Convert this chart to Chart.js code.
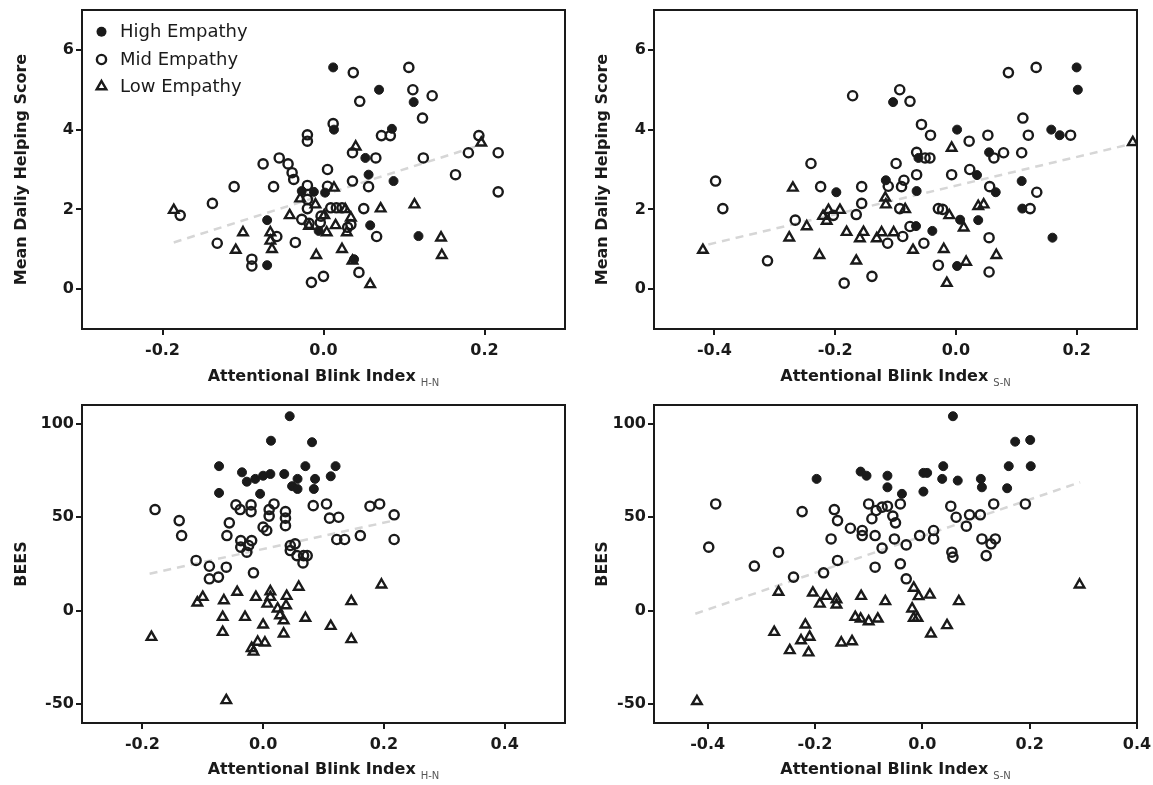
<!DOCTYPE html>
<html>
<head>
<meta charset="utf-8">
<title>Attentional Blink Index vs Helping / BEES</title>
<script src="https://cdn.jsdelivr.net/npm/chart.js@4.4.1/dist/chart.umd.min.js"></script>
<style>
  body { margin: 0; background: #fff; width: 1153px; height: 785px; overflow: hidden; position: relative; }
  canvas { position: absolute; }
</style>
</head>
<body>
<canvas id="c1" width="576" height="392" style="left:0;top:0"></canvas>
<canvas id="c2" width="577" height="392" style="left:576px;top:0"></canvas>
<canvas id="c3" width="576" height="393" style="left:0;top:392px"></canvas>
<canvas id="c4" width="577" height="393" style="left:576px;top:392px"></canvas>
<script>
/* global Chart */

// ---- data: [attentional blink index, score] ----

// Mean daily helping score vs AB index H-N
const helpHN_high = [[0.012,5.56],[0.069,5.0],[0.112,4.69],[0.013,4.0],[0.085,4.02],[0.052,3.29],[0.056,2.87],[0.087,2.71],[-0.027,2.46],[-0.012,2.44],[0.002,2.42],[-0.07,1.73],[-0.07,0.6],[-0.006,1.46],[0.058,1.6],[0.118,1.33],[0.038,0.75]];
const helpHN_mid = [[0.037,5.43],[0.106,5.56],[0.111,5.0],[0.135,4.85],[0.045,4.71],[0.123,4.29],[0.012,4.15],[0.072,3.85],[0.083,3.85],[-0.02,3.87],[-0.02,3.71],[0.193,3.85],[0.036,3.42],[0.065,3.29],[0.124,3.29],[0.18,3.42],[0.217,3.42],[0.005,3.0],[0.164,2.87],[0.036,2.71],[0.056,2.57],[0.217,2.44],[-0.075,3.14],[-0.055,3.29],[-0.044,3.14],[-0.039,2.92],[-0.037,2.75],[-0.111,2.57],[-0.062,2.57],[-0.02,2.6],[0.005,2.58],[-0.02,2.25],[-0.02,2.02],[-0.027,1.75],[-0.018,1.65],[0.009,2.04],[0.016,2.04],[0.023,2.04],[0.034,1.62],[-0.003,1.83],[-0.004,1.67],[0.03,1.55],[0.05,2.02],[0.066,1.32],[-0.178,1.85],[-0.138,2.15],[-0.132,1.15],[-0.058,1.32],[-0.035,1.17],[-0.089,0.75],[-0.089,0.58],[0.044,0.42],[-0.015,0.17],[0.0,0.32]];
const helpHN_low = [[-0.186,1.98],[-0.1,1.42],[-0.109,0.98],[-0.066,1.42],[-0.066,1.21],[-0.064,1.0],[-0.042,1.85],[0.04,3.57],[0.196,3.67],[0.013,2.54],[-0.029,2.27],[-0.01,2.12],[-0.018,1.58],[0.001,1.85],[0.027,2.0],[0.034,1.79],[0.004,1.42],[0.015,1.6],[0.029,1.42],[0.071,2.02],[0.113,2.12],[0.146,1.29],[0.147,0.85],[-0.009,0.85],[0.023,1.0],[0.036,0.71],[0.058,0.12]];
const helpHN_fit = [[-0.186,1.17],[0.196,3.62]];

// Mean daily helping score vs AB index S-N
const helpSN_high = [[-0.198,2.43],[-0.116,2.73],[-0.104,4.69],[-0.066,1.58],[-0.065,2.46],[-0.062,3.29],[-0.039,1.46],[0.002,0.58],[0.002,4.0],[0.007,1.74],[0.035,2.86],[0.037,1.73],[0.055,3.43],[0.066,2.43],[0.109,2.71],[0.11,2.02],[0.158,4.0],[0.16,1.29],[0.172,3.86],[0.2,5.56],[0.202,5.0]];
const helpSN_mid = [[-0.398,2.71],[-0.386,2.02],[-0.312,0.71],[-0.266,1.73],[-0.24,3.15],[-0.224,2.57],[-0.203,1.85],[-0.171,4.85],[-0.156,2.57],[-0.156,2.15],[-0.165,1.87],[-0.185,0.15],[-0.139,0.32],[-0.113,1.15],[-0.088,1.32],[-0.112,2.58],[-0.099,3.15],[-0.086,2.73],[-0.09,2.57],[-0.065,2.87],[-0.093,2.02],[-0.076,1.57],[-0.053,1.15],[-0.029,0.6],[-0.065,3.43],[-0.051,3.29],[-0.043,3.29],[-0.042,3.86],[0.022,3.71],[-0.007,2.87],[0.023,3.0],[-0.029,2.02],[-0.022,2.0],[0.087,5.43],[0.133,5.56],[-0.093,5.0],[-0.076,4.71],[0.111,4.29],[-0.057,4.13],[0.053,3.86],[0.12,3.86],[0.19,3.86],[0.063,3.29],[0.079,3.42],[0.109,3.42],[0.056,2.57],[0.134,2.43],[0.123,2.02],[0.055,1.29],[0.055,0.43]];
const helpSN_low = [[-0.419,0.98],[-0.27,2.54],[-0.276,1.29],[-0.247,1.57],[-0.226,0.85],[-0.211,1.98],[-0.22,1.83],[-0.214,1.71],[-0.192,1.98],[-0.181,1.43],[-0.153,1.43],[-0.159,1.27],[-0.165,0.71],[-0.123,1.42],[-0.131,1.27],[-0.103,1.42],[-0.117,2.29],[-0.116,2.12],[-0.084,2.0],[-0.071,0.98],[-0.015,0.15],[-0.02,1.0],[0.017,0.68],[-0.007,3.54],[-0.011,1.85],[0.013,1.54],[0.037,2.08],[0.293,3.68],[0.046,2.12],[0.067,0.85]];
const helpSN_fit = [[-0.41,1.12],[0.299,3.67]];

// BEES vs AB index H-N
const beesHN_high = [[-0.073,77.3],[-0.073,63],[-0.035,74],[-0.027,69],[-0.013,70.5],[0.0,72.2],[0.012,73.1],[-0.005,62.5],[0.013,90.9],[0.044,104],[0.035,73.1],[0.057,70.5],[0.048,66.6],[0.057,65.1],[0.07,77.3],[0.081,90.1],[0.086,70.5],[0.084,65.1],[0.12,77.3],[0.112,71.9]];
const beesHN_mid = [[-0.179,54.1],[-0.139,48.2],[-0.135,40.2],[-0.111,26.9],[-0.089,23.8],[-0.089,17.1],[-0.074,18],[-0.061,23.3],[-0.045,56.6],[-0.038,54.1],[-0.02,56.6],[-0.02,53],[-0.056,47],[-0.06,40.2],[-0.037,37.5],[-0.037,34],[-0.024,34.9],[-0.019,37.5],[-0.027,31.3],[-0.016,20.3],[0,44.7],[0.006,42.9],[0.01,54.1],[0.01,50.6],[0.018,57.1],[0.037,53],[0.037,49.5],[0.037,45.5],[0.045,34.9],[0.045,32.2],[0.053,35.8],[0.056,29.5],[0.067,29.5],[0.066,25.6],[0.073,29.5],[0.083,56.2],[0.105,57.1],[0.11,49.5],[0.125,50],[0.122,38.1],[0.135,38.1],[0.161,40.2],[0.177,55.9],[0.193,57.1],[0.217,51.3],[0.217,38.1]];
const beesHN_low = [[-0.185,-14.1],[-0.109,4.3],[-0.1,7.3],[-0.065,5.5],[-0.067,-3.4],[-0.067,-11.4],[-0.061,-47.9],[-0.043,10],[-0.03,-3.4],[-0.012,7.3],[0.0,-7.5],[-0.009,-16.7],[-0.016,-22],[-0.019,-20],[0.003,-17.1],[0.012,10.3],[0.012,7.3],[0.007,3.7],[0.024,1.1],[0.028,-2.5],[0.034,-5.2],[0.039,7.8],[0.038,2.8],[0.034,-12.3],[0.059,12.7],[0.07,-3.9],[0.112,-8.2],[0.146,5.0],[0.146,-15.3],[0.196,13.9]];
const beesHN_fit = [[-0.188,19.8],[0.216,48.2]];

// BEES vs AB index S-N
const beesSN_high = [[-0.197,70.5],[-0.115,74.4],[-0.104,72.2],[-0.065,72.2],[-0.065,66],[-0.038,62.5],[0.002,73.7],[0.009,73.7],[0.002,63.7],[0.039,77.3],[0.037,70.5],[0.066,69.6],[0.109,70.5],[0.111,66],[0.057,104],[0.173,90.4],[0.201,91.3],[0.161,77.3],[0.202,77.3],[0.158,65.5]];
const beesSN_mid = [[-0.385,57.1],[-0.398,34],[-0.313,23.9],[-0.268,31.3],[-0.24,18],[-0.224,53],[-0.184,20.3],[-0.164,54.1],[-0.158,48.2],[-0.17,38.4],[-0.158,26.9],[-0.134,44.1],[-0.112,42.9],[-0.112,40.2],[-0.1,57.1],[-0.086,53.6],[-0.094,49.2],[-0.088,40.2],[-0.075,55.4],[-0.065,55.9],[-0.055,50.6],[-0.05,47],[-0.041,57.1],[-0.075,33.5],[-0.088,23.3],[-0.052,38.4],[-0.03,35.2],[-0.041,25.1],[-0.03,17.1],[-0.005,40.2],[0.021,42.9],[0.021,38.4],[0.053,55.9],[0.063,50],[0.082,45.2],[0.088,51.3],[0.108,51.3],[0.055,31.3],[0.057,28.7],[0.111,38.4],[0.128,35.8],[0.119,29.5],[0.136,38.4],[0.133,57.1],[0.192,57.1]];
const beesSN_low = [[-0.42,-48.4],[-0.268,10],[-0.276,-11.4],[-0.247,-21.2],[-0.218,-7.5],[-0.226,-15.9],[-0.21,-14],[-0.212,-22.4],[-0.204,9.6],[-0.191,3.7],[-0.179,7.8],[-0.16,6],[-0.16,3.2],[-0.151,-17.1],[-0.131,-16.4],[-0.114,7.8],[-0.125,-3.4],[-0.115,-4.3],[-0.1,-5.7],[-0.083,-4.3],[-0.069,5.0],[-0.019,1.1],[-0.016,-3.9],[-0.009,-3.9],[-0.016,12.2],[-0.007,7.7],[0.014,8.5],[0.068,5.0],[0.016,-12.3],[0.046,-7.8],[0.293,13.9]];
const beesSN_fit = [[-0.423,-1.6],[0.294,68.7]];

// tick labels
const xTicksHelpHN = [-0.2, 0.0, 0.2];
const xTicksHelpSN = [-0.4, -0.2, 0.0, 0.2];
const xTicksBeesHN = [-0.2, 0.0, 0.2, 0.4];
const xTicksBeesSN = [-0.4, -0.2, 0.0, 0.2, 0.4];
const yTicksHelp = [0, 2, 4, 6];
const yTicksBees = [-50, 0, 50, 100];

const groupLabels = ['High Empathy', 'Mid Empathy', 'Low Empathy'];

{
  'use strict';

  const FONT = 'DejaVu Sans';
  const INK = '#1a1a1a';

  const toXY = arr => arr.map(p => ({ x: p[0], y: p[1] }));

  // frame, axis titles (with subscript) and the in-plot legend
  const decorPlugin = {
    id: 'decor',
    afterDraw(chart, args, opts) {
      const ctx = chart.ctx;
      const a = chart.chartArea;
      ctx.save();
      ctx.strokeStyle = INK;
      ctx.lineWidth = 2;
      ctx.strokeRect(a.left, a.top, a.right - a.left, a.bottom - a.top);

      // x title
      ctx.fillStyle = INK;
      ctx.textBaseline = 'middle';
      ctx.textAlign = 'left';
      ctx.font = 'bold 16px ' + FONT;
      const main = 'Attentional Blink Index';
      const w1 = ctx.measureText(main).width;
      ctx.font = '10px ' + FONT;
      const w2 = ctx.measureText(opts.sub).width;
      const x0 = (a.left + a.right) / 2 - (w1 + 5 + w2) / 2;
      ctx.font = 'bold 16px ' + FONT;
      ctx.fillText(main, x0, opts.xTitleY);
      ctx.fillStyle = '#555';
      ctx.font = '10px ' + FONT;
      ctx.fillText(opts.sub, x0 + w1 + 5, opts.xTitleY + 6);

      // y title
      ctx.fillStyle = INK;
      ctx.font = 'bold 16px ' + FONT;
      ctx.translate(opts.yTitleX, (a.top + a.bottom) / 2);
      ctx.rotate(-Math.PI / 2);
      ctx.textAlign = 'center';
      ctx.fillText(opts.yTitle, 0, 0);
      ctx.setTransform(1, 0, 0, 1, 0, 0);

      if (opts.legend) {
        const rows = [31.7, 59.5, 86.5];
        ctx.font = '18px ' + FONT;
        ctx.textAlign = 'left';
        rows.forEach(function(ry, i) {
          const mx = 101.5;
          ctx.lineWidth = 2.4;
          ctx.strokeStyle = INK;
          ctx.fillStyle = INK;
          ctx.beginPath();
          if (i === 0) {
            ctx.arc(mx, ry, 5, 0, Math.PI * 2);
            ctx.fill();
          } else if (i === 1) {
            ctx.arc(mx, ry, 4.6, 0, Math.PI * 2);
            ctx.stroke();
          } else {
            ctx.moveTo(mx, ry - 5.5);
            ctx.lineTo(mx + 4.8, ry + 2.8);
            ctx.lineTo(mx - 4.8, ry + 2.8);
            ctx.closePath();
            ctx.stroke();
          }
          ctx.fillText(groupLabels[i], 120, ry + 1);
        });
      }
      ctx.restore();
    }
  };

  function makeChart(p) {
    const W = p.w, H = p.h;
    const tickFont = { family: FONT, size: 16, weight: 'bold' };
    const axisGrid = { display: true, drawOnChartArea: false, drawTicks: true, tickLength: 6, color: INK, lineWidth: 2 };

    return new Chart(document.getElementById(p.id), {
      type: 'scatter',
      data: {
        datasets: [
          {
            label: groupLabels[0],
            data: toXY(p.high),
            pointStyle: 'circle',
            pointRadius: 4.5,
            backgroundColor: INK,
            borderColor: INK,
            borderWidth: 1,
            order: 0,
          },
          {
            label: groupLabels[1],
            data: toXY(p.mid),
            pointStyle: 'circle',
            pointRadius: 4.6,
            backgroundColor: 'rgba(0,0,0,0)',
            borderColor: INK,
            borderWidth: 2.4,
            order: 0,
          },
          {
            label: groupLabels[2],
            data: toXY(p.low),
            pointStyle: 'triangle',
            pointRadius: 5.5,
            backgroundColor: 'rgba(0,0,0,0)',
            borderColor: INK,
            borderWidth: 2.4,
            order: 0,
          },
          {
            label: 'fit',
            type: 'line',
            data: toXY(p.fit),
            showLine: true,
            pointRadius: 0,
            borderColor: '#d6d6d6',
            borderWidth: 2.5,
            borderDash: [8, 6],
            fill: false,
            order: 1,
          }
        ]
      },
      options: {
        responsive: false,
        devicePixelRatio: 1,
        animation: false,
        layout: { padding: { left: 0, top: p.area.t, right: W - p.area.r, bottom: 0 } },
        plugins: {
          legend: { display: false },
          tooltip: { enabled: false },
          decor: { sub: p.sub, yTitle: p.yTitle, yTitleX: p.yTitleX, xTitleY: p.xTitleY, legend: p.legend }
        },
        scales: {
          x: {
            type: 'linear',
            min: p.xRange[0],
            max: p.xRange[1],
            afterBuildTicks: s => { s.ticks = p.xTicks.map(v => ({ value: v })); },
            afterFit: s => { s.height = H - p.area.b; s.paddingLeft = 0; s.paddingRight = 0; },
            ticks: { font: tickFont, color: INK, padding: 6, maxRotation: 0, autoSkip: false, callback: v => v.toFixed(1) },
            grid: axisGrid,
            border: { display: true, color: INK, width: 2 },
          },
          y: {
            type: 'linear',
            min: p.yRange[0],
            max: p.yRange[1],
            afterBuildTicks: s => { s.ticks = p.yTicks.map(v => ({ value: v })); },
            afterFit: s => { s.width = p.area.l; s.paddingTop = 0; s.paddingBottom = 0; },
            ticks: { font: tickFont, color: INK, padding: 2, autoSkip: false, callback: v => String(v) },
            grid: axisGrid,
            border: { display: true, color: INK, width: 2 },
          }
        }
      },
      plugins: [decorPlugin]
    });
  }

  const panels = [
    { id: 'c1', w: 576, h: 392, area: { l: 82, t: 10, r: 565, b: 329 },
      xRange: [-0.3, 0.3], yRange: [-1, 7], xTicks: xTicksHelpHN, yTicks: yTicksHelp,
      high: helpHN_high, mid: helpHN_mid, low: helpHN_low, fit: helpHN_fit,
      yTitle: 'Mean Daliy Helping Score', sub: 'H-N', yTitleX: 22, xTitleY: 377, legend: true },
    { id: 'c2', w: 577, h: 392, area: { l: 78, t: 10, r: 561, b: 329 },
      xRange: [-0.5, 0.3], yRange: [-1, 7], xTicks: xTicksHelpSN, yTicks: yTicksHelp,
      high: helpSN_high, mid: helpSN_mid, low: helpSN_low, fit: helpSN_fit,
      yTitle: 'Mean Daliy Helping Score', sub: 'S-N', yTitleX: 27, xTitleY: 377, legend: false },
    { id: 'c3', w: 576, h: 393, area: { l: 82, t: 13, r: 565, b: 331 },
      xRange: [-0.3, 0.5], yRange: [-60, 110], xTicks: xTicksBeesHN, yTicks: yTicksBees,
      high: beesHN_high, mid: beesHN_mid, low: beesHN_low, fit: beesHN_fit,
      yTitle: 'BEES', sub: 'H-N', yTitleX: 22, xTitleY: 378, legend: false },
    { id: 'c4', w: 577, h: 393, area: { l: 78, t: 13, r: 561, b: 331 },
      xRange: [-0.5, 0.4], yRange: [-60, 110], xTicks: xTicksBeesSN, yTicks: yTicksBees,
      high: beesSN_high, mid: beesSN_mid, low: beesSN_low, fit: beesSN_fit,
      yTitle: 'BEES', sub: 'S-N', yTitleX: 27, xTitleY: 378, legend: false },
  ];

  panels.forEach(makeChart);
}
</script>
</body>
</html>
